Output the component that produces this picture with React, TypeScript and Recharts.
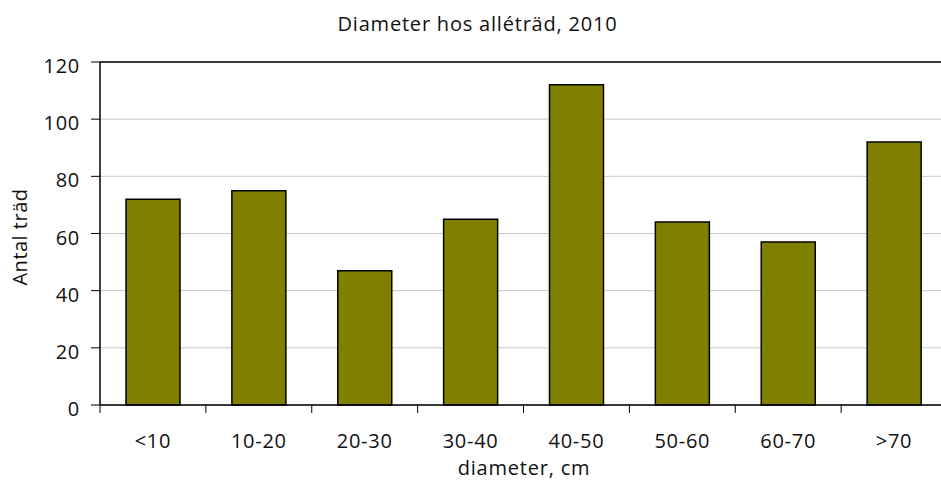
import React from "react";
import { BarChart, Bar, XAxis, YAxis, CartesianGrid, ReferenceLine } from "recharts";

// diameter classes (cm) and number of trees
const categories = ["<10", "10-20", "20-30", "30-40", "40-50", "50-60", "60-70", ">70"];
const counts = [72, 75, 47, 65, 112, 64, 57, 92];
const yTicks = [0, 20, 40, 60, 80, 100, 120];

const title = "Diameter hos alléträd, 2010";
const xTitle = "diameter, cm";
const yTitle = "Antal träd";

const FONT = "'Open Sans', sans-serif";
const CHART_W = 960;
const CHART_H = 486;
const X_AXIS_H = 30;
const MARGIN = { top: 62, right: 13, bottom: 81 - X_AXIS_H, left: 0 };
const Y_AXIS_W = 100;
const BAND = (CHART_W - MARGIN.right - Y_AXIS_W) / categories.length;

const data = categories.map((name, i) => ({ name, value: counts[i] }));

const XTick = (props: any) => {
  const { x, y, payload } = props;
  return (
    <g>
      <line x1={x - BAND / 2} y1={y} x2={x - BAND / 2} y2={y + 8} stroke="#000" strokeWidth={1} />
      {payload.index === categories.length - 1 && (
        <line x1={x + BAND / 2} y1={y} x2={x + BAND / 2} y2={y + 8} stroke="#000" strokeWidth={1} />
      )}
      <text x={x} y={y + 43} textAnchor="middle" fontSize={20} fontFamily={FONT} fill="#111" letterSpacing={0.7}>
        {payload.value}
      </text>
    </g>
  );
};

const YTick = (props: any) => {
  const { x, y, payload } = props;
  return (
    <text x={x} y={y + 11} textAnchor="end" fontSize={20} fontFamily={FONT} fill="#111" letterSpacing={0.7}>
      {payload.value}
    </text>
  );
};

export default function App() {
  return (
    <div style={{ position: "absolute", left: 0, top: 0, width: 941, height: 486, overflow: "hidden", background: "#fff" }}>
      <BarChart width={CHART_W} height={CHART_H} data={data} margin={MARGIN}>
        <CartesianGrid horizontal vertical={false} stroke="#c8c8c8" strokeWidth={1} />
        <XAxis
          dataKey="name"
          height={X_AXIS_H}
          axisLine={{ stroke: "#000", strokeWidth: 1.5 }}
          tickLine={false}
          tickSize={0}
          tickMargin={0}
          interval={0}
          tick={<XTick />}
        />
        <YAxis
          width={Y_AXIS_W}
          domain={[0, 120]}
          ticks={yTicks}
          interval={0}
          axisLine={{ stroke: "#000", strokeWidth: 1.5 }}
          tickLine={{ stroke: "#000", strokeWidth: 1 }}
          tickSize={9}
          tickMargin={11}
          tick={<YTick />}
        />
        <ReferenceLine y={120} stroke="#000" strokeWidth={1.5} />
        <Bar dataKey="value" fill="#808000" stroke="#000" strokeWidth={1.5} barSize={54} isAnimationActive={false} />
      </BarChart>
      <svg width={941} height={486} style={{ position: "absolute", left: 0, top: 0, pointerEvents: "none" }}>
        <text x={477.5} y={30.5} textAnchor="middle" fontSize={20} fontFamily={FONT} fill="#111" letterSpacing={0.8}>
          {title}
        </text>
        <text x={524} y={475} textAnchor="middle" fontSize={20} fontFamily={FONT} fill="#111" letterSpacing={0.8}>
          {xTitle}
        </text>
        <text
          x={27}
          y={237}
          transform="rotate(-90 27 237)"
          textAnchor="middle"
          fontSize={20}
          fontFamily={FONT}
          fill="#111"
          letterSpacing={0.5}
        >
          {yTitle}
        </text>
      </svg>
    </div>
  );
}
